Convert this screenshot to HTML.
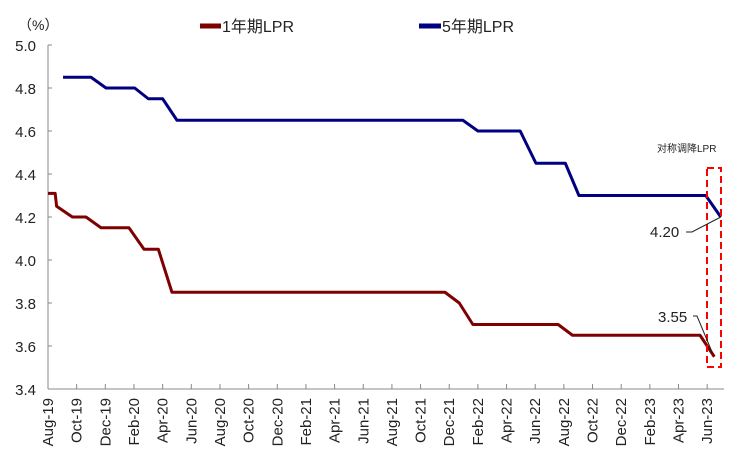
<!DOCTYPE html>
<html><head><meta charset="utf-8"><style>
body{margin:0;background:#fff;}
svg text{font-family:"Liberation Sans","Noto Sans CJK SC",sans-serif;}
</style></head><body>
<svg id="c" width="738" height="461"></svg>
<script>
const tickLabels=["Aug-19","Oct-19","Dec-19","Feb-20","Apr-20","Jun-20","Aug-20","Oct-20","Dec-20","Feb-21","Apr-21","Jun-21","Aug-21","Oct-21","Dec-21","Feb-22","Apr-22","Jun-22","Aug-22","Oct-22","Dec-22","Feb-23","Apr-23","Jun-23"];
const yTicks=[3.4,3.6,3.8,4.0,4.2,4.4,4.6,4.8,5.0];
const oneYearMonths=[0,0.5,0.6,1.7,2.65,3.7,5.65,6.7,7.7,8.65,27.7,28.7,29.65,35.6,36.6,45.5,46.5];
const oneYearValues=[4.31,4.31,4.25,4.20,4.20,4.15,4.15,4.05,4.05,3.85,3.85,3.80,3.70,3.70,3.65,3.65,3.55];
const fiveYearMonths=[1.05,3.0,4.05,6.05,7.0,8.0,9.0,28.95,30.0,32.95,34.05,36.1,37.05,45.9,46.95];
const fiveYearValues=[4.85,4.85,4.80,4.80,4.75,4.75,4.65,4.65,4.60,4.60,4.45,4.45,4.30,4.30,4.20];
const NS="http://www.w3.org/2000/svg",svg=document.getElementById('c');
const x=m=>48+m*14.33, y=v=>389-(v-3.4)/1.6*344;
function mk(t,a,p){const e=document.createElementNS(NS,t);for(const k in a)e.setAttribute(k,a[k]);(p||svg).appendChild(e);return e;}
let e;
e=mk('line',{x1:48,y1:45,x2:48,y2:389,stroke:'#888','stroke-width':1});


e=mk('line',{x1:48,y1:389,x2:724,y2:389,stroke:'#888','stroke-width':1});


yTicks.forEach(v=>{
 mk('line',{x1:48,y1:y(v),x2:52,y2:y(v),stroke:'#888'});
 e=mk('text',{x:36,y:y(v)+6,'font-size':15,'text-anchor':'end',fill:'#222'});e.textContent=v.toFixed(1);
 
 
});
tickLabels.forEach((t,i)=>{
 const px=x(i*2);
 mk('line',{x1:px,y1:389,x2:px,y2:384,stroke:'#888'});
 e=mk('text',{x:0,y:0,'font-size':15,'text-anchor':'end',fill:'#222',transform:`translate(${px+5},398) rotate(-90)`});e.textContent=t;
 
 
});
e=mk('text',{x:18,y:30,'font-size':14,fill:'#222'});e.textContent='（%）';


function series(ms,vs,col,name){
 e=mk('polyline',{points:ms.map((m,i)=>x(m)+','+y(vs[i])).join(' '),fill:'none',stroke:col,'stroke-width':3,'stroke-linejoin':'round'});
 
 
}
series(oneYearMonths,oneYearValues,'#7f0000','line-1y-lpr');
series(fiveYearMonths,fiveYearValues,'#000080','line-5y-lpr');
mk('line',{x1:200,y1:26,x2:221,y2:26,stroke:'#7f0000','stroke-width':5});
e=mk('text',{x:222,y:32,'font-size':16,fill:'#222'});e.textContent='1年期LPR';


mk('line',{x1:419,y1:26,x2:441,y2:26,stroke:'#000080','stroke-width':5});
e=mk('text',{x:442,y:32,'font-size':16,fill:'#222'});e.textContent='5年期LPR';


e=mk('rect',{x:707,y:168,width:14,height:199,fill:'none',stroke:'#f00','stroke-width':2,'stroke-dasharray':'7,4'});


e=mk('text',{x:657,y:152,'font-size':10,fill:'#222'});e.textContent='对称调降LPR';


const last5=fiveYearValues[fiveYearValues.length-1],last1=oneYearValues[oneYearValues.length-1];
e=mk('text',{x:650,y:237,'font-size':15,fill:'#222'});e.textContent=last5.toFixed(2);


mk('polyline',{points:`686,232 692,232 ${x(fiveYearMonths[fiveYearMonths.length-1])},${y(last5)}`,fill:'none',stroke:'#222','stroke-width':1});
e=mk('text',{x:658,y:322,'font-size':15,fill:'#222'});e.textContent=last1.toFixed(2);


mk('polyline',{points:`693,316 697,316 ${x(oneYearMonths[oneYearMonths.length-1])-2},${y(last1)-4}`,fill:'none',stroke:'#222','stroke-width':1});
</script>
</body></html>
